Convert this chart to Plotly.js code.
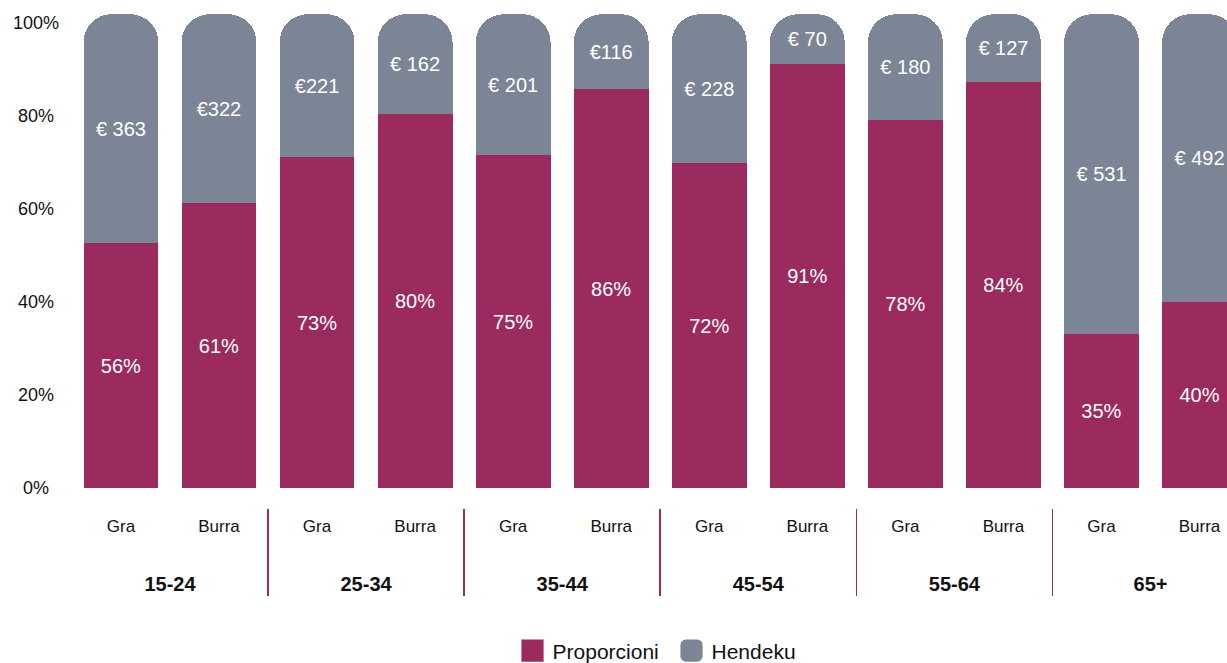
<!DOCTYPE html>
<html><head><meta charset="utf-8">
<script src="https://cdn.plot.ly/plotly-3.0.1.min.js"></script>
<style>html,body{margin:0;padding:0;background:#fff}#chart{width:1227px;height:663px}</style>
</head><body><div id="chart"></div>
<script>
const ageGroups = ['15-24','15-24','25-34','25-34','35-44','35-44','45-54','45-54','55-64','55-64','65+','65+'];
const sexes = ['Gra','Burra','Gra','Burra','Gra','Burra','Gra','Burra','Gra','Burra','Gra','Burra'];
const proporcioni = [52.6, 61.2, 71.1, 80.3, 71.5, 85.7, 69.8, 91.1, 79.1, 87.2, 33.1, 40.0];
const hendeku = [49.2, 40.6, 30.7, 21.5, 30.3, 16.1, 32.0, 10.7, 22.7, 14.6, 68.7, 61.8];
const pctLabels = ['56%','61%','73%','80%','75%','86%','72%','91%','78%','84%','35%','40%'];
const euroLabels = ['€ 363','€322','€221','€ 162','€ 201','€116','€ 228','€ 70','€ 180','€ 127','€ 531','€ 492'];
const yTickVals = [0, 20, 40, 60, 80, 100];
const yTickText = ['0%\u2007', '20%\u2008', '40%\u2008', '60%\u2008', '80%\u2008', '100%'];

const groupTicks = ageGroups.map(g => '<br><br><b><span style="font-size:20px">' + g + '</span></b>');
const xCats = [groupTicks, sexes];

const MAGENTA = '#9b2b5e';
const GRAY = '#7b8595';

const common = {
  type: 'bar', x: xCats, textposition: 'inside', insidetextanchor: 'middle',
  textangle: 0, constraintext: 'none', hoverinfo: 'skip',
  textfont: {color: '#ffffff', size: 20}
};
const traces = [
  Object.assign({}, common, {name: 'Proporcioni', y: proporcioni, text: pctLabels,
    marker: {color: MAGENTA}}),
  Object.assign({}, common, {name: 'Hendeku', y: hendeku, text: euroLabels,
    marker: {color: GRAY, cornerradius: 28}})
];

const layout = {
  width: 1227, height: 663,
  margin: {l: 72, r: 0, t: 10, b: 155, autoexpand: false},
  paper_bgcolor: '#ffffff', plot_bgcolor: '#ffffff',
  font: {family: '"Liberation Sans", Arial, sans-serif', color: '#111111', size: 17},
  barmode: 'stack', bargap: 0.237,
  showlegend: true,
  xaxis: {type: 'multicategory', range: [-0.499, 11.28], showdividers: true, automargin: false,
    dividercolor: MAGENTA, dividerwidth: 1.5, tickfont: {size: 17, color: '#111111'},
    showline: false, ticks: '', showgrid: false, zeroline: false, ticklabelstandoff: 6},
  yaxis: {range: [-4.3, 102.7], tickvals: yTickVals, ticktext: yTickText, automargin: false,
    showgrid: false, zeroline: false, showline: false, ticks: '',
    tickfont: {size: 18, color: '#111111'}, ticklabelstandoff: 12},
  legend: {orientation: 'h', x: 0.3814, xanchor: 'left', y: -0.287, yanchor: 'middle',
    entrywidth: 114, entrywidthmode: 'pixels',
    font: {size: 21, color: '#111111'}, traceorder: 'normal'}
};
Plotly.newPlot('chart', traces, layout, {staticPlot: true, displayModeBar: false}).then(gd => {
  gd.querySelectorAll('.legend .legendpoints path').forEach(p => {
    const t = p.getAttribute('transform') || '';
    p.setAttribute('transform', t + ' scale(1.85)');
  });
});
</script></body></html>
